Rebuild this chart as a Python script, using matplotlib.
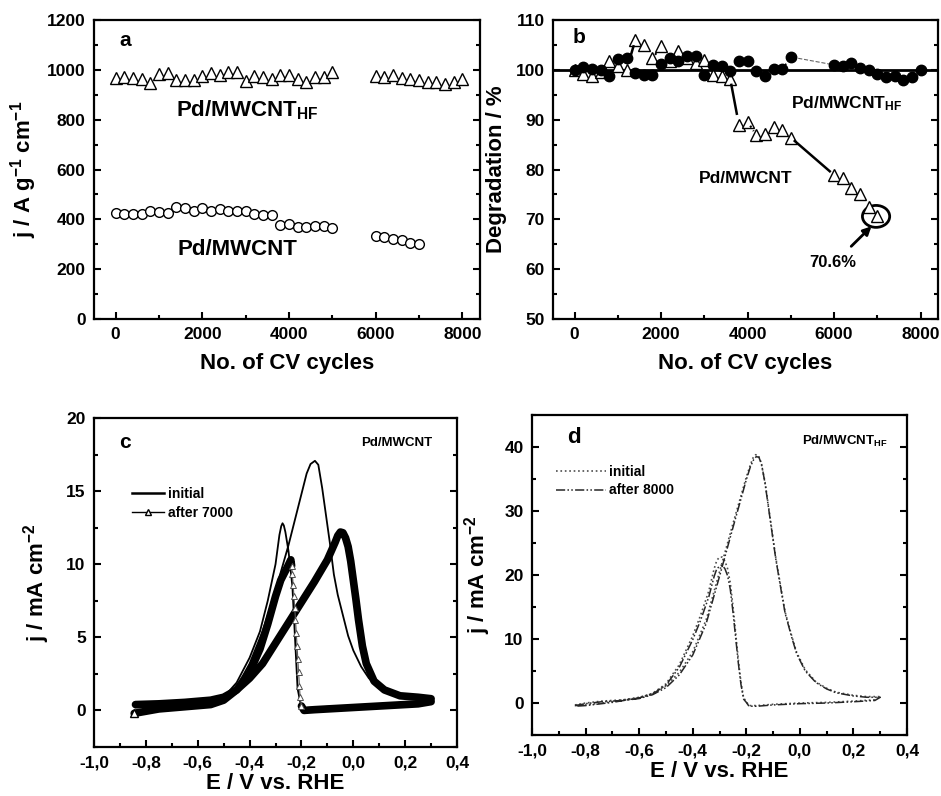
import numpy as np
import matplotlib
matplotlib.use('Agg')
import matplotlib.pyplot as plt
from matplotlib.ticker import MultipleLocator, FuncFormatter
from matplotlib.lines import Line2D
from matplotlib.patches import Ellipse

plt.rcParams['font.family'] = ['Liberation Sans', 'DejaVu Sans']
plt.rcParams['font.weight'] = 'bold'
plt.rcParams['axes.labelweight'] = 'bold'
plt.rcParams['mathtext.fontset'] = 'custom'
plt.rcParams['mathtext.rm'] = 'Liberation Sans:bold'
plt.rcParams['mathtext.it'] = 'Liberation Sans:bold'
plt.rcParams['mathtext.bf'] = 'Liberation Sans:bold'

# ---- panel a: current density vs cycles ----
cyc_a_hf = [0, 200, 400, 600, 800, 1000, 1200, 1400, 1600, 1800, 2000, 2200, 2400,
            2600, 2800, 3000, 3200, 3400, 3600, 3800, 4000, 4200, 4400, 4600, 4800,
            5000, 6000, 6200, 6400, 6600, 6800, 7000, 7200, 7400, 7600, 7800, 8000]
j_a_hf = [967, 972, 968, 962, 948, 985, 988, 960, 958, 958, 975, 988, 980,
          992, 992, 955, 975, 970, 962, 980, 980, 962, 952, 970, 970,
          992, 975, 972, 978, 968, 962, 958, 950, 952, 945, 952, 962]
cyc_a_pd = [0, 200, 400, 600, 800, 1000, 1200, 1400, 1600, 1800, 2000, 2200, 2400,
            2600, 2800, 3000, 3200, 3400, 3600, 3800, 4000, 4200, 4400, 4600, 4800,
            5000, 6000, 6200, 6400, 6600, 6800, 7000]
j_a_pd = [425, 422, 420, 423, 432, 428, 425, 450, 445, 435, 445, 432, 440,
          435, 432, 432, 420, 418, 418, 378, 380, 368, 370, 375, 373,
          366, 334, 328, 320, 317, 305, 300]

# ---- panel b: degradation ----
cyc_b_hf = cyc_a_hf
deg_b_hf = [100.0, 100.5, 100.2, 100.0, 98.7, 102.1, 102.3, 99.3, 99.0, 99.0, 101.1, 102.3, 101.7,
            102.7, 102.7, 99.0, 101.0, 100.7, 99.8, 101.7, 101.7, 99.7, 98.7, 100.1, 100.1,
            102.6, 101.0, 100.7, 101.3, 100.3, 100.0, 99.2, 98.5, 98.8, 98.0, 98.5, 99.9]
cyc_b_pd = cyc_a_pd
deg_b_pd = [100.0, 99.2, 98.7, 99.6, 101.8, 100.7, 100.0, 105.9, 105.0, 102.3, 104.7, 101.8, 103.7,
            102.4, 101.3, 102.0, 99.0, 98.8, 98.1, 88.9, 89.6, 86.9, 87.2, 88.6, 88.0,
            86.4, 78.9, 78.4, 76.2, 75.0, 72.5, 70.6]

# ---- panel c: CV of Pd/MWCNT ----
c_init_E = [-0.84, -0.75, -0.65, -0.55, -0.50, -0.45, -0.40, -0.35, -0.30, -0.25, -0.20, -0.18,
            -0.165, -0.148, -0.135, -0.12, -0.105, -0.09, -0.075, -0.06, -0.045, -0.02, 0.00,
            0.03, 0.06, 0.10, 0.15, 0.20, 0.25, 0.30,
            0.30, 0.25, 0.15, 0.05, -0.05, -0.15, -0.20, -0.215, -0.225, -0.235, -0.25, -0.262,
            -0.268, -0.273, -0.278, -0.285, -0.30, -0.33, -0.36, -0.40, -0.45, -0.50, -0.55,
            -0.65, -0.75, -0.84]
c_init_j = [0.4, 0.5, 0.6, 0.8, 1.0, 1.6, 3.2, 5.4, 8.2, 11.3, 14.8, 16.2,
            16.85, 17.07, 16.8, 15.2, 13.3, 11.4, 9.3, 7.9, 6.85, 5.1, 4.1,
            3.0, 2.2, 1.5, 1.15, 1.0, 0.95, 0.9,
            0.6, 0.45, 0.4, 0.35, 0.3, 0.2, 0.15, 1.5, 5.0, 8.5, 10.9, 12.2,
            12.65, 12.8, 12.6, 12.0, 10.0, 7.5, 5.4, 3.6, 1.9, 0.9, 0.5,
            0.3, 0.25, 0.2]

c7000_fwd_E = [-0.84, -0.75, -0.65, -0.55, -0.50, -0.45, -0.40, -0.35, -0.30, -0.25, -0.20,
               -0.15, -0.10, -0.07, -0.06, -0.05, -0.04, -0.03, -0.02, -0.01, 0.00, 0.01,
               0.02, 0.035, 0.05, 0.08, 0.12, 0.18, 0.25, 0.30]
c7000_fwd_j = [0.4, 0.45, 0.55, 0.7, 0.9, 1.4, 2.2, 3.2, 4.6, 6.0, 7.4,
               8.8, 10.3, 11.5, 11.95, 12.2, 12.15, 11.8, 11.2, 10.2, 8.9, 7.6,
               6.2, 4.4, 3.2, 2.0, 1.4, 1.0, 0.9, 0.8]
c7000_rev_E = [0.30, 0.25, 0.15, 0.05, -0.05, -0.15, -0.19, -0.200, -0.205, -0.208, -0.211,
               -0.214, -0.217, -0.220, -0.223, -0.226, -0.229, -0.232, -0.235, -0.238, -0.241,
               -0.26, -0.28, -0.30, -0.33, -0.36, -0.40, -0.45, -0.50, -0.55, -0.65, -0.75, -0.845]
c7000_rev_j = [0.6, 0.45, 0.35, 0.25, 0.15, 0.05, 0.0, 0.3, 0.9, 1.7, 2.6,
               3.5, 4.4, 5.3, 6.2, 7.0, 7.8, 8.6, 9.3, 9.9, 10.3,
               9.6, 8.9, 7.8, 5.9, 4.2, 2.6, 1.4, 0.7, 0.4, 0.25, 0.1, -0.2]

# ---- panel d: CV of Pd/MWCNT_HF ----
d_init_E = [-0.84, -0.80, -0.74, -0.66, -0.60, -0.55, -0.50, -0.45, -0.40, -0.35, -0.30, -0.25,
            -0.20, -0.185, -0.175, -0.165, -0.155, -0.145, -0.13, -0.11, -0.09, -0.07, -0.055,
            -0.03, -0.012, 0.02, 0.06, 0.10, 0.135, 0.20, 0.25, 0.30,
            0.30, 0.28, 0.20, 0.10, 0.00, -0.10, -0.16, -0.19, -0.20, -0.21, -0.22, -0.23,
            -0.24, -0.25, -0.26, -0.27, -0.28, -0.29, -0.30, -0.31, -0.32, -0.34, -0.37,
            -0.40, -0.45, -0.50, -0.55, -0.60, -0.70, -0.80, -0.84]
d_init_j = [-0.3, 0.0, 0.3, 0.5, 0.8, 1.5, 2.7, 4.8, 8.0, 13.0, 20.5, 28.0,
            35.3, 37.2, 38.3, 38.8, 38.7, 37.6, 34.5, 28.6, 22.7, 17.8, 14.2,
            10.4, 7.9, 5.2, 3.3, 2.3, 1.7, 1.2, 1.0, 1.0,
            1.0, 0.5, 0.3, 0.1, 0.0, -0.2, -0.4, -0.4, 0.2, 0.8, 3.2, 6.8,
            11.0, 15.2, 18.8, 21.0, 22.2, 22.8, 22.8, 22.3, 21.0, 17.5, 13.8,
            10.5, 6.0, 3.0, 1.5, 0.9, 0.2, -0.3, -0.4]
d8000_E = [-0.84, -0.80, -0.74, -0.66, -0.60, -0.55, -0.50, -0.45, -0.40, -0.35, -0.30, -0.25,
           -0.20, -0.185, -0.173, -0.163, -0.153, -0.143, -0.13, -0.11, -0.09, -0.07, -0.055,
           -0.03, -0.012, 0.02, 0.06, 0.10, 0.135, 0.20, 0.25, 0.30,
           0.30, 0.28, 0.20, 0.10, 0.00, -0.10, -0.16, -0.19, -0.20, -0.21, -0.22, -0.23,
           -0.24, -0.25, -0.26, -0.27, -0.28, -0.29, -0.295, -0.31, -0.32, -0.34, -0.37,
           -0.40, -0.45, -0.50, -0.55, -0.60, -0.70, -0.80, -0.84]
d8000_j = [-0.4, -0.1, 0.2, 0.4, 0.7, 1.3, 2.4, 4.4, 7.5, 12.4, 19.8, 27.4,
           34.9, 36.9, 38.0, 38.5, 38.4, 37.3, 34.3, 28.4, 22.5, 17.6, 14.0,
           10.2, 7.7, 5.0, 3.2, 2.2, 1.6, 1.1, 0.9, 0.9,
           0.9, 0.4, 0.2, 0.0, -0.1, -0.3, -0.5, -0.5, 0.1, 0.6, 2.9, 6.3,
           10.3, 14.3, 17.8, 19.9, 21.0, 21.5, 21.5, 21.0, 19.8, 16.6, 13.0,
           9.9, 5.6, 2.8, 1.4, 0.8, 0.1, -0.4, -0.5]


def style_axes(ax, xmaj, xmin, ymaj, ymin):
    for s in ax.spines.values():
        s.set_linewidth(1.6)
    ax.xaxis.set_major_locator(MultipleLocator(xmaj))
    ax.xaxis.set_minor_locator(MultipleLocator(xmin))
    ax.yaxis.set_major_locator(MultipleLocator(ymaj))
    ax.yaxis.set_minor_locator(MultipleLocator(ymin))
    ax.tick_params(which='both', direction='in', top=False, right=True, width=1.5,
                   labelsize=12.5, pad=6)
    ax.tick_params(which='major', length=5)
    ax.tick_params(which='minor', length=3)


def comma(v, pos):
    if abs(v) < 1e-9:
        v = 0.0
    return f"{v:.1f}".replace('.', ',')


def connector(ax, x, y, xa, xb, s0, s1, **kw):
    # line between two data points, trimmed to fractions s0..s1 of the gap
    i, k = x.index(xa), x.index(xb)
    x0, y0, x1, y1 = x[i], y[i], x[k], y[k]
    ax.plot([x0 + s0 * (x1 - x0), x0 + s1 * (x1 - x0)],
            [y0 + s0 * (y1 - y0), y0 + s1 * (y1 - y0)], **kw)


fig = plt.figure(figsize=(9.41, 7.96), dpi=100)

# panel a
ax = fig.add_axes([0.0999, 0.5992, 0.410, 0.3756])
ax.plot(cyc_a_hf, j_a_hf, '^', ms=8, mfc='white', mec='black', mew=1)
ax.plot(cyc_a_pd, j_a_pd, 'o', ms=7, mfc='white', mec='black', mew=1)
ax.set_xlim(-500, 8400)
ax.set_ylim(0, 1200)
style_axes(ax, 2000, 1000, 200, 100)
ax.set_xlabel('No. of CV cycles', fontsize=16, labelpad=8)
ax.set_ylabel(r'j / A g$^{-1}$ cm$^{-1}$', fontsize=16, labelpad=6)
ax.text(0.066, 0.933, 'a', transform=ax.transAxes, fontsize=15, va='center')
ax.text(1400, 840, r'Pd/MWCNT$_{\mathrm{HF}}$', fontsize=16, va='center')
ax.text(1430, 281, 'Pd/MWCNT', fontsize=16, va='center')

# panel b
ax = fig.add_axes([0.5877, 0.5992, 0.409, 0.3756])
ax.axhline(100, color='black', lw=2, zorder=1)
ax.plot(cyc_b_pd, deg_b_pd, '^', ms=9, mfc='white', mec='black', mew=1, zorder=2)
ax.plot(cyc_b_hf, deg_b_hf, 'o', ms=7.5, color='black', zorder=3)
connector(ax, cyc_b_pd, deg_b_pd, 3600, 3800, 0.12, 0.75, color='black', lw=1.8)
connector(ax, cyc_b_pd, deg_b_pd, 5000, 6000, 0.09, 0.9, color='black', lw=1.8)
connector(ax, cyc_b_pd, deg_b_pd, 1200, 1400, 0.42, 0.8, color='black', lw=1.8)
connector(ax, cyc_b_pd, deg_b_pd, 4000, 4200, 0.3, 0.7, color='black', lw=1.5, ls=':')
connector(ax, cyc_b_pd, deg_b_pd, 1800, 2000, 0.3, 0.55, color='black', lw=1.5, ls=':')
connector(ax, cyc_b_hf, deg_b_hf, 5000, 6000, 0.17, 0.94, color='0.4', lw=0.8, ls='--')
connector(ax, cyc_b_hf, deg_b_hf, 4800, 5000, 0.35, 0.65, color='black', lw=1.2, ls=':')
xl, yl = cyc_b_pd[-1], deg_b_pd[-1]
ax.add_patch(Ellipse((xl - 30, yl), 630, 4.4, fill=False, lw=2, color='black'))
ax.annotate('', xy=(xl - 90, yl - 1.6), xytext=(xl - 650, yl - 6.4),
            arrowprops=dict(arrowstyle='-|>', lw=2, color='black', mutation_scale=12))
ax.set_xlim(-500, 8400)
ax.set_ylim(50, 110)
style_axes(ax, 2000, 1000, 10, 5)
ax.set_xlabel('No. of CV cycles', fontsize=16, labelpad=8)
ax.set_ylabel('Degradation / %', fontsize=16, labelpad=6)
ax.text(0.052, 0.94, 'b', transform=ax.transAxes, fontsize=15, va='center')
ax.text(5010, 93.3, r'Pd/MWCNT$_{\mathrm{HF}}$', fontsize=12.5, va='center')
ax.text(2870, 78.2, 'Pd/MWCNT', fontsize=12.5, va='center')
ax.text(5420, 61.4, '70.6%', fontsize=12, va='center')

# panel c
ax = fig.add_axes([0.0999, 0.0616, 0.3858, 0.4133])
ax.plot(c_init_E, c_init_j, '-', color='black', lw=1.3)
ax.plot(c7000_fwd_E, c7000_fwd_j, '-', color='black', lw=5.5, solid_capstyle='round',
        solid_joinstyle='round')
rev_E = np.array(c7000_rev_E)
rev_j = np.array(c7000_rev_j)
steep = (rev_E < -0.199) & (rev_E > -0.24)
i0 = np.argmax(steep)
i1 = len(steep) - np.argmax(steep[::-1])
ax.plot(rev_E[:i0 + 1], rev_j[:i0 + 1], '-', color='black', lw=5.5, solid_capstyle='round')
ax.plot(rev_E[i1 - 1:], rev_j[i1 - 1:], '-', color='black', lw=5.5, solid_capstyle='round',
        solid_joinstyle='round')
ax.plot(rev_E[i0:i1], rev_j[i0:i1], '-^', color='0.35', lw=0.8, ms=4, mfc='white', mec='0.3', mew=0.7)
ax.plot(rev_E[-1:], rev_j[-1:], '^', ms=6, mfc='white', mec='black', mew=1)
ax.set_xlim(-1.0, 0.4)
ax.set_ylim(-2.5, 20)
style_axes(ax, 0.2, 0.1, 5, 2.5)
ax.xaxis.set_major_formatter(FuncFormatter(comma))
ax.set_xlabel('E / V vs. RHE', fontsize=16, labelpad=2)
ax.set_ylabel(r'j / mA cm$^{-2}$', fontsize=16, labelpad=10)
ax.text(0.07, 0.924, 'c', transform=ax.transAxes, fontsize=15, va='center')
ax.text(0.931, 0.924, 'Pd/MWCNT', transform=ax.transAxes, fontsize=9.5, ha='right', va='center')
handles = [Line2D([], [], color='black', lw=1.8),
           Line2D([], [], color='black', lw=1, marker='^', ms=5, mfc='white', mec='black')]
ax.legend(handles, ['initial', 'after 7000'], loc='upper left', bbox_to_anchor=(0.105, 0.79),
          frameon=False, fontsize=10, handlelength=2.3, handletextpad=0.3,
          labelspacing=0.35, borderpad=0, borderaxespad=0)

# panel d
ax = fig.add_axes([0.5654, 0.0766, 0.3985, 0.402])
ax.plot(d_init_E, d_init_j, ':', color='0.3', lw=1.2)
ax.plot(d8000_E, d8000_j, color='0.15', lw=1.1, dashes=(6, 1.5, 1, 1.5, 1, 1.5))
ax.set_xlim(-1.0, 0.4)
ax.set_ylim(-5, 45)
style_axes(ax, 0.2, 0.1, 10, 5)
ax.xaxis.set_major_formatter(FuncFormatter(comma))
ax.set_xlabel('E / V vs. RHE', fontsize=16, labelpad=2)
ax.set_ylabel(r'j / mA cm$^{-2}$', fontsize=16, labelpad=8)
ax.text(0.093, 0.931, 'd', transform=ax.transAxes, fontsize=16, va='center')
ax.text(0.949, 0.916, r'Pd/MWCNT$_{\mathrm{HF}}$', transform=ax.transAxes, fontsize=9.5,
        ha='right', va='center')
handles = [Line2D([], [], color='0.3', lw=1.2, ls=':'),
           Line2D([], [], color='0.15', lw=1.1, dashes=(6, 1.5, 1, 1.5, 1, 1.5))]
ax.legend(handles, ['initial', 'after 8000'], loc='upper left', bbox_to_anchor=(0.065, 0.845),
          frameon=False, fontsize=10, handlelength=3.6, handletextpad=0.2,
          labelspacing=0.35, borderpad=0, borderaxespad=0)

fig.savefig('out.png', dpi=100)
